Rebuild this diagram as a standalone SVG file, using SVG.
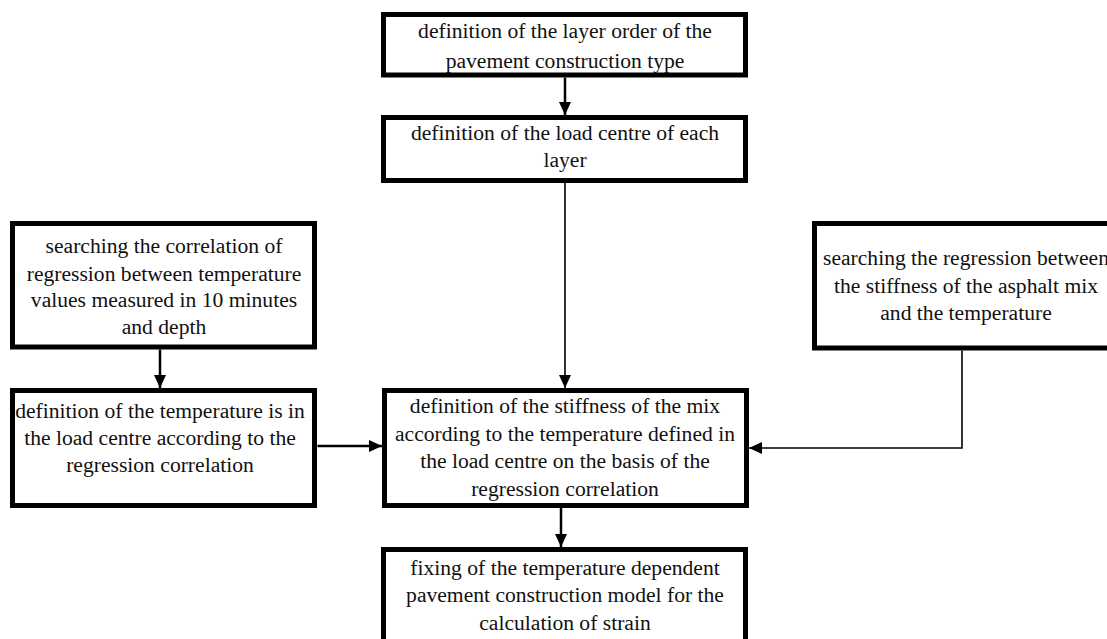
<svg xmlns="http://www.w3.org/2000/svg" width="1107" height="639" viewBox="0 0 1107 639">
<style>
.box{fill:#fff;stroke:#000;stroke-width:5}
.t{font-family:"Liberation Serif","Times New Roman",serif;font-size:21.6px;fill:#111;text-anchor:middle}
.c{fill:none;stroke:#000;stroke-width:2.5}
.c.thin{stroke-width:1.6}
</style>
<defs>
<marker id="ah" markerUnits="userSpaceOnUse" markerWidth="13" markerHeight="12" refX="13" refY="6" orient="auto">
<path d="M0,0 L13,6 L0,12 z" fill="#000"/>
</marker>
</defs>
<rect width="1107" height="639" fill="#fff"/>
<g id="connectors">
<path class="c" d="M565,77.5 V115" marker-end="url(#ah)"/>
<path class="c thin" d="M565,183 V388" marker-end="url(#ah)"/>
<path class="c" d="M160,349.5 V388" marker-end="url(#ah)"/>
<path class="c" d="M317.5,446 H382" marker-end="url(#ah)"/>
<path class="c thin" d="M962,350.5 V448 H749" marker-end="url(#ah)"/>
<path class="c" d="M561,508 V547" marker-end="url(#ah)"/>
</g>
<g id="n1">
<rect class="box" x="383.5" y="14.5" width="362" height="60.5"/>
<text class="t" x="565" y="37.5">definition of the layer order of the</text>
<text class="t" x="565" y="67.5">pavement construction type</text>
</g>
<g id="n2">
<rect class="box" x="383.5" y="117.5" width="362" height="63"/>
<text class="t" x="565" y="140">definition of the load centre of each</text>
<text class="t" x="565" y="166.5">layer</text>
</g>
<g id="n3">
<rect class="box" x="12.5" y="223.5" width="302" height="123.5"/>
<text class="t" x="164" y="253">searching the correlation of</text>
<text class="t" x="164" y="280.5">regression between temperature</text>
<text class="t" x="164" y="307">values measured in 10 minutes</text>
<text class="t" x="164" y="333.5">and depth</text>
</g>
<g id="n4">
<rect class="box" x="12.5" y="390.5" width="302" height="115"/>
<text class="t" x="160" y="418">definition of the temperature is in</text>
<text class="t" x="160" y="445">the load centre according to the</text>
<text class="t" x="160" y="471.5">regression correlation</text>
</g>
<g id="n5">
<rect class="box" x="814.5" y="223.5" width="303" height="124.5"/>
<text class="t" x="966" y="265">searching the regression between</text>
<text class="t" x="966" y="293">the stiffness of the asphalt mix</text>
<text class="t" x="966" y="320">and the temperature</text>
</g>
<g id="n6">
<rect class="box" x="384.5" y="390.5" width="362" height="115"/>
<text class="t" x="565" y="413">definition of the stiffness of the mix</text>
<text class="t" x="565" y="440.5">according to the temperature defined in</text>
<text class="t" x="565" y="468">the load centre on the basis of the</text>
<text class="t" x="565" y="496">regression correlation</text>
</g>
<g id="n7">
<rect class="box" x="383.5" y="549.5" width="362" height="96"/>
<text class="t" x="565" y="574.5">fixing of the temperature dependent</text>
<text class="t" x="565" y="602">pavement construction model for the</text>
<text class="t" x="565" y="629.5">calculation of strain</text>
</g>
</svg>
